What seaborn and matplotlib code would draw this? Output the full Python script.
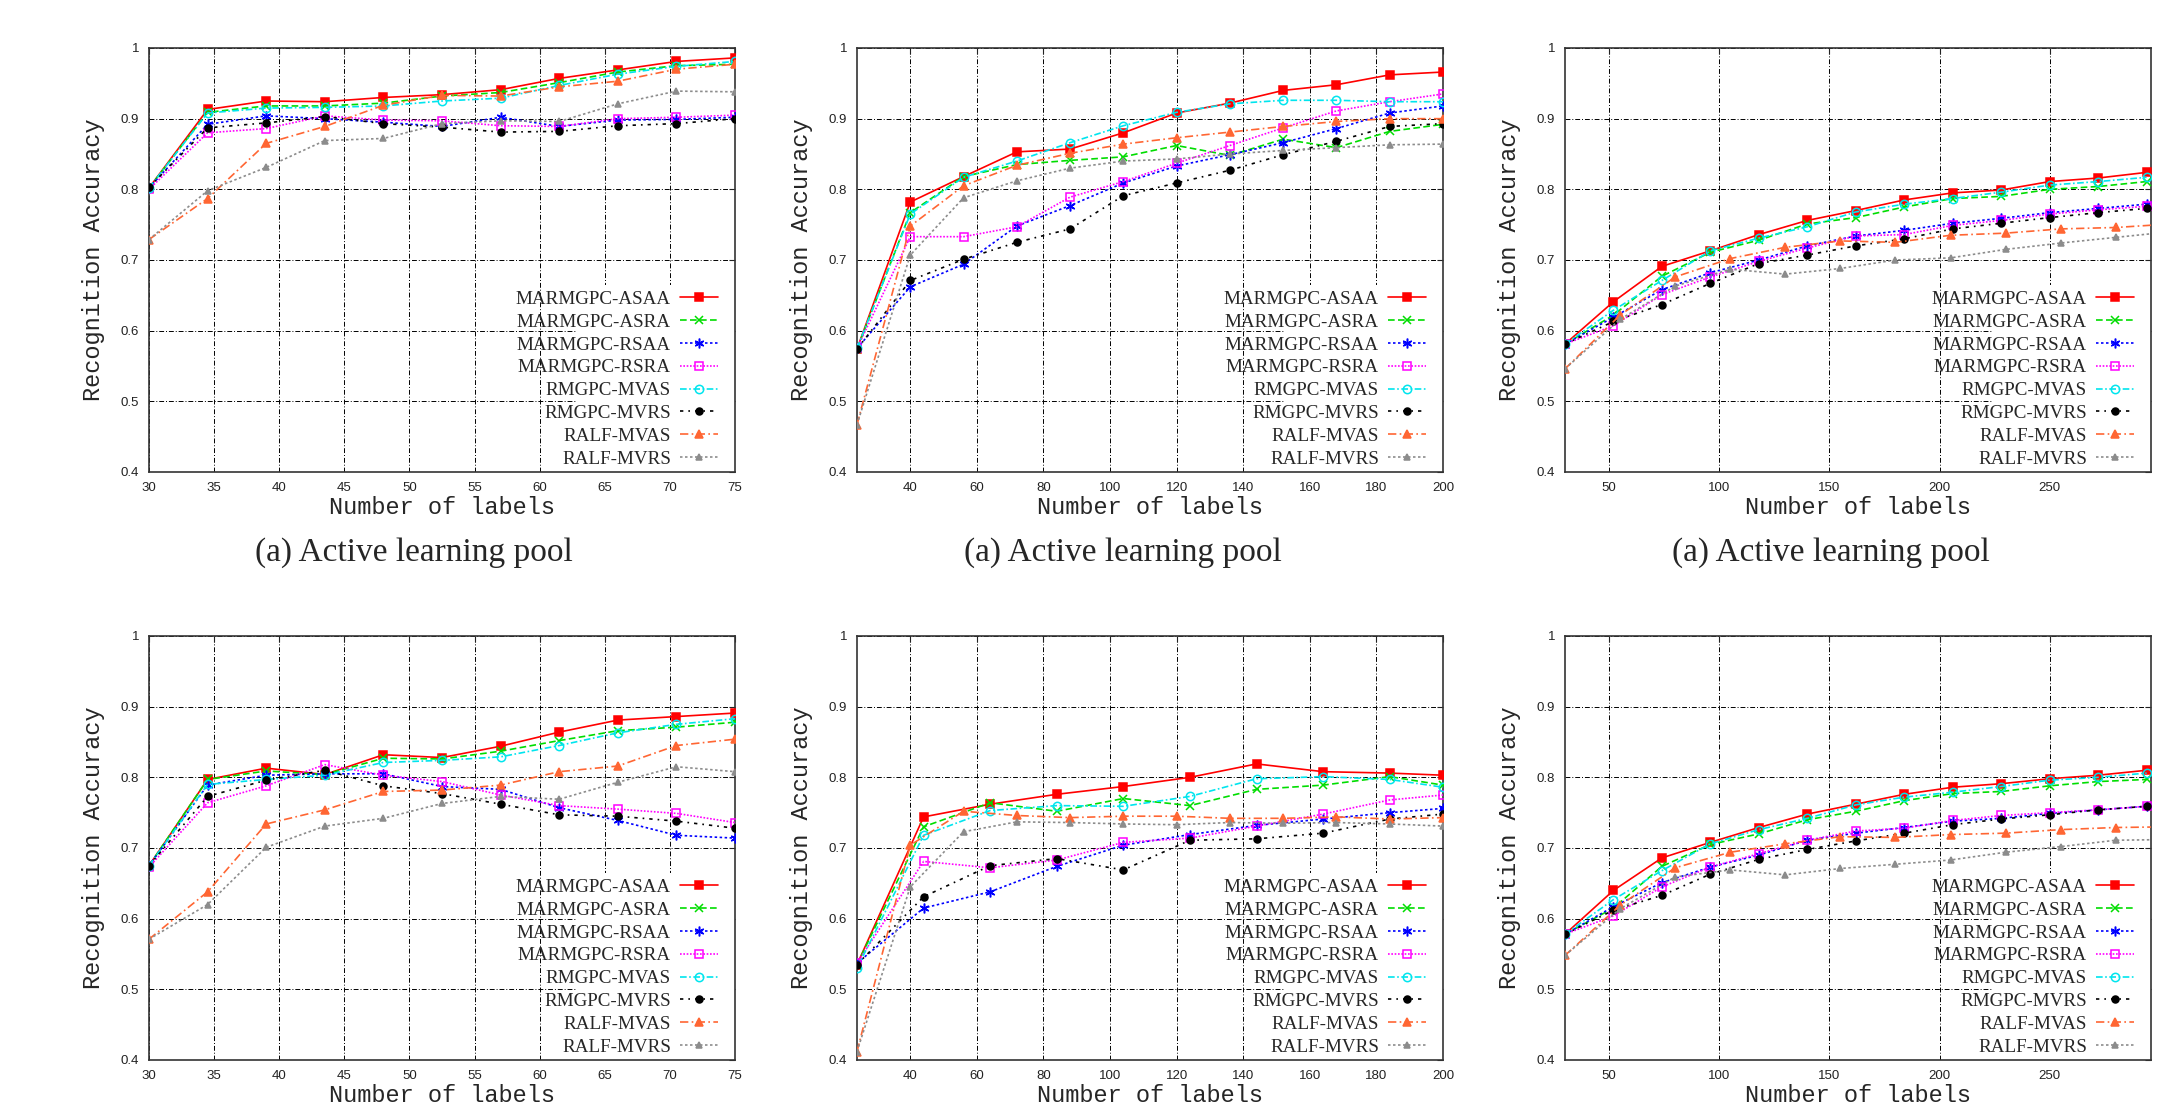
import pandas as pd
import seaborn as sns
import matplotlib.pyplot as plt
from matplotlib.patches import Rectangle

sns.set_theme(style="white")
plt.rcParams['font.family'] = ['Liberation Sans', 'DejaVu Sans']

METHODS = ['MARMGPC-ASAA', 'MARMGPC-ASRA', 'MARMGPC-RSAA', 'MARMGPC-RSRA',
           'RMGPC-MVAS', 'RMGPC-MVRS', 'RALF-MVAS', 'RALF-MVRS']

# x positions (number of labels)
X_A = [30, 34.5, 39, 43.5, 48, 52.5, 57, 61.5, 66, 70.5, 75]
X_B_TOP = [24, 40, 56, 72, 88, 104, 120, 136, 152, 168, 184, 200]
X_B_BOT = [24, 44, 64, 84, 104, 124, 144, 164, 184, 200]
X_B_RALF = [24, 40, 56, 72, 88, 104, 120, 136, 152, 168, 184, 200]
X_C = [30, 52, 74, 96, 118, 140, 162, 184, 206, 228, 250, 272, 294]
X_C_RALF = [30, 55, 80, 105, 130, 155, 180, 205, 230, 255, 280, 305]

TOP_LEFT = {
    'MARMGPC-ASAA': [0.802, 0.913, 0.925, 0.924, 0.930, 0.934, 0.941, 0.957, 0.969, 0.981, 0.986],
    'MARMGPC-ASRA': [0.802, 0.909, 0.918, 0.918, 0.922, 0.932, 0.937, 0.951, 0.966, 0.975, 0.977],
    'MARMGPC-RSAA': [0.802, 0.892, 0.904, 0.900, 0.895, 0.889, 0.902, 0.889, 0.898, 0.899, 0.902],
    'MARMGPC-RSRA': [0.800, 0.880, 0.886, 0.904, 0.898, 0.897, 0.890, 0.889, 0.900, 0.902, 0.905],
    'RMGPC-MVAS': [0.802, 0.908, 0.915, 0.916, 0.918, 0.925, 0.929, 0.947, 0.963, 0.974, 0.981],
    'RMGPC-MVRS': [0.803, 0.887, 0.894, 0.903, 0.893, 0.888, 0.881, 0.882, 0.890, 0.893, 0.900],
    'RALF-MVAS': [0.729, 0.787, 0.865, 0.889, 0.919, 0.933, 0.932, 0.945, 0.953, 0.970, 0.977],
    'RALF-MVRS': [0.729, 0.798, 0.831, 0.869, 0.872, 0.893, 0.897, 0.896, 0.921, 0.939, 0.938],
}

TOP_MID = {
    'MARMGPC-ASAA': [0.574, 0.782, 0.818, 0.853, 0.857, 0.880, 0.908, 0.922, 0.940, 0.948, 0.962, 0.966],
    'MARMGPC-ASRA': [0.574, 0.767, 0.818, 0.835, 0.841, 0.846, 0.862, 0.848, 0.871, 0.859, 0.882, 0.892],
    'MARMGPC-RSAA': [0.575, 0.662, 0.694, 0.748, 0.777, 0.809, 0.833, 0.849, 0.866, 0.886, 0.908, 0.918],
    'MARMGPC-RSRA': [0.575, 0.733, 0.733, 0.747, 0.789, 0.811, 0.837, 0.862, 0.887, 0.911, 0.924, 0.935],
    'RMGPC-MVAS': [0.575, 0.765, 0.817, 0.840, 0.866, 0.890, 0.909, 0.921, 0.926, 0.926, 0.924, 0.924],
    'RMGPC-MVRS': [0.574, 0.671, 0.701, 0.725, 0.744, 0.791, 0.809, 0.827, 0.849, 0.868, 0.889, 0.893],
    'RALF-MVAS': [0.467, 0.748, 0.805, 0.834, 0.851, 0.864, 0.873, 0.881, 0.889, 0.896, 0.900, 0.900],
    'RALF-MVRS': [0.467, 0.707, 0.788, 0.812, 0.830, 0.840, 0.843, 0.850, 0.855, 0.859, 0.863, 0.864],
}

TOP_RIGHT = {
    'MARMGPC-ASAA': [0.581, 0.641, 0.691, 0.713, 0.736, 0.756, 0.770, 0.785, 0.795, 0.799, 0.811, 0.816, 0.824],
    'MARMGPC-ASRA': [0.581, 0.622, 0.677, 0.711, 0.728, 0.751, 0.760, 0.775, 0.787, 0.790, 0.800, 0.804, 0.811],
    'MARMGPC-RSAA': [0.581, 0.619, 0.658, 0.682, 0.700, 0.720, 0.734, 0.742, 0.752, 0.759, 0.767, 0.773, 0.779],
    'MARMGPC-RSRA': [0.581, 0.607, 0.651, 0.676, 0.698, 0.717, 0.734, 0.736, 0.749, 0.756, 0.765, 0.771, 0.776],
    'RMGPC-MVAS': [0.581, 0.629, 0.671, 0.713, 0.731, 0.747, 0.768, 0.779, 0.787, 0.796, 0.806, 0.811, 0.817],
    'RMGPC-MVRS': [0.581, 0.613, 0.637, 0.667, 0.695, 0.707, 0.720, 0.730, 0.744, 0.752, 0.760, 0.767, 0.773],
    'RALF-MVAS': [0.546, 0.622, 0.676, 0.702, 0.718, 0.727, 0.725, 0.735, 0.738, 0.744, 0.746, 0.751],
    'RALF-MVRS': [0.546, 0.616, 0.663, 0.687, 0.680, 0.688, 0.700, 0.703, 0.715, 0.724, 0.732, 0.740],
}

BOT_LEFT = {
    'MARMGPC-ASAA': [0.675, 0.797, 0.813, 0.804, 0.832, 0.828, 0.844, 0.864, 0.881, 0.886, 0.891],
    'MARMGPC-ASRA': [0.675, 0.797, 0.809, 0.804, 0.827, 0.826, 0.837, 0.852, 0.866, 0.871, 0.878],
    'MARMGPC-RSAA': [0.675, 0.789, 0.803, 0.805, 0.805, 0.787, 0.783, 0.757, 0.739, 0.718, 0.714],
    'MARMGPC-RSRA': [0.673, 0.764, 0.788, 0.818, 0.803, 0.794, 0.775, 0.760, 0.755, 0.749, 0.736],
    'RMGPC-MVAS': [0.675, 0.790, 0.797, 0.803, 0.821, 0.824, 0.829, 0.845, 0.863, 0.875, 0.883],
    'RMGPC-MVRS': [0.675, 0.773, 0.796, 0.810, 0.788, 0.777, 0.762, 0.747, 0.745, 0.738, 0.728],
    'RALF-MVAS': [0.571, 0.638, 0.734, 0.754, 0.780, 0.782, 0.789, 0.808, 0.816, 0.845, 0.854],
    'RALF-MVRS': [0.571, 0.620, 0.701, 0.731, 0.742, 0.763, 0.773, 0.769, 0.793, 0.815, 0.808],
}

BOT_MID = {
    'MARMGPC-ASAA': [0.535, 0.744, 0.762, 0.776, 0.787, 0.800, 0.819, 0.808, 0.806, 0.803],
    'MARMGPC-ASRA': [0.535, 0.730, 0.764, 0.752, 0.770, 0.760, 0.783, 0.789, 0.801, 0.789],
    'MARMGPC-RSAA': [0.537, 0.615, 0.638, 0.674, 0.704, 0.719, 0.732, 0.741, 0.750, 0.756],
    'MARMGPC-RSRA': [0.537, 0.681, 0.672, 0.683, 0.708, 0.714, 0.731, 0.748, 0.768, 0.775],
    'RMGPC-MVAS': [0.530, 0.718, 0.753, 0.760, 0.759, 0.773, 0.798, 0.801, 0.797, 0.786],
    'RMGPC-MVRS': [0.535, 0.631, 0.675, 0.685, 0.669, 0.711, 0.713, 0.721, 0.741, 0.748],
    'RALF-MVAS': [0.412, 0.704, 0.752, 0.746, 0.743, 0.745, 0.745, 0.742, 0.742, 0.744, 0.741, 0.743],
    'RALF-MVRS': [0.412, 0.645, 0.723, 0.737, 0.736, 0.734, 0.733, 0.736, 0.735, 0.736, 0.734, 0.731],
}

BOT_RIGHT = {
    'MARMGPC-ASAA': [0.578, 0.640, 0.686, 0.708, 0.729, 0.748, 0.762, 0.776, 0.786, 0.791, 0.798, 0.803, 0.810],
    'MARMGPC-ASRA': [0.578, 0.615, 0.674, 0.705, 0.720, 0.740, 0.752, 0.767, 0.777, 0.780, 0.788, 0.794, 0.797],
    'MARMGPC-RSAA': [0.578, 0.617, 0.651, 0.673, 0.690, 0.711, 0.721, 0.729, 0.738, 0.742, 0.749, 0.754, 0.759],
    'MARMGPC-RSRA': [0.578, 0.604, 0.645, 0.673, 0.692, 0.711, 0.724, 0.728, 0.739, 0.746, 0.750, 0.754, 0.759],
    'RMGPC-MVAS': [0.578, 0.627, 0.668, 0.706, 0.726, 0.742, 0.761, 0.772, 0.779, 0.787, 0.796, 0.800, 0.806],
    'RMGPC-MVRS': [0.578, 0.612, 0.633, 0.663, 0.684, 0.698, 0.710, 0.721, 0.733, 0.741, 0.747, 0.754, 0.759],
    'RALF-MVAS': [0.548, 0.619, 0.672, 0.694, 0.706, 0.716, 0.715, 0.719, 0.721, 0.726, 0.729, 0.730],
    'RALF-MVRS': [0.548, 0.614, 0.659, 0.669, 0.662, 0.671, 0.677, 0.683, 0.694, 0.702, 0.711, 0.712],
}

Y_TICKS = [0.4, 0.5, 0.6, 0.7, 0.8, 0.9, 1.0]
Y_TICK_LABELS = ['0.4', '0.5', '0.6', '0.7', '0.8', '0.9', '1']

# style per method: color, marker, linestyle, markersize, filled
STYLES = {
    'MARMGPC-ASAA': ('#ff0000', 's', '-', 5.5, True),
    'MARMGPC-ASRA': ('#00dd00', 'x', (0, (4, 2)), 5.5, False),
    'MARMGPC-RSAA': ('#0000ff', (6, 2, 0), (0, (1.5, 1.5)), 7, False),
    'MARMGPC-RSRA': ('#ff00ff', 's', (0, (1, 1)), 6, 'open'),
    'RMGPC-MVAS': ('#00e5ee', 'o', (0, (4, 1.5, 1, 1.5)), 6, 'open'),
    'RMGPC-MVRS': ('#000000', 'o', (0, (2, 3, 1, 3)), 5, True),
    'RALF-MVAS': ('#ff6633', '^', (0, (5, 2, 1, 2)), 6, True),
    'RALF-MVRS': ('#8c8c8c', '^', (0, (1.5, 1.5)), 4.5, True),
}

PANELS = [
    (TOP_LEFT, X_A, X_A, (30, 75), list(range(30, 80, 5))),
    (TOP_MID, X_B_TOP, X_B_RALF, (24, 200), list(range(40, 220, 20))),
    (TOP_RIGHT, X_C, X_C_RALF, (30, 296), [50, 100, 150, 200, 250]),
    (BOT_LEFT, X_A, X_A, (30, 75), list(range(30, 80, 5))),
    (BOT_MID, X_B_BOT, X_B_RALF, (24, 200), list(range(40, 220, 20))),
    (BOT_RIGHT, X_C, X_C_RALF, (30, 296), [50, 100, 150, 200, 250]),
]

W, H = 2158, 1107
COL_LEFT = [149, 857, 1565]
COL_W = 586
ROW_TOP = [48, 636]
ROW_H = 424
CAPTION_X = [414, 1123, 1831]


def to_frame(values, x_main, x_ralf):
    rows = []
    for name in METHODS:
        xs = x_ralf if name.startswith('RALF') else x_main
        for x, y in zip(xs, values[name]):
            rows.append({'labels': x, 'acc': y, 'method': name})
    return pd.DataFrame(rows)


fig = plt.figure(figsize=(W / 100, H / 100), dpi=100)

for i, (values, x_main, x_ralf, xlim, xticks) in enumerate(PANELS):
    r, c = divmod(i, 3)
    left = COL_LEFT[c] / W
    bottom = 1 - (ROW_TOP[r] + ROW_H) / H
    ax = fig.add_axes([left, bottom, COL_W / W, ROW_H / H])
    df = to_frame(values, x_main, x_ralf)

    for name in METHODS:
        color, marker, ls, ms, filled = STYLES[name]
        face = color if filled is True else 'none'
        sub = df[df['method'] == name]
        sns.lineplot(data=sub, x='labels', y='acc', ax=ax, color=color, marker=marker,
                     linestyle=ls, linewidth=1.2, markersize=ms, markerfacecolor=face,
                     markeredgecolor=color, markeredgewidth=1.1, label=name,
                     errorbar=None, zorder=3)

    ax.set_xlim(*xlim)
    ax.set_ylim(0.4, 1.0)
    ax.set_xticks(xticks)
    ax.set_yticks(Y_TICKS)
    ax.set_yticklabels(Y_TICK_LABELS)
    ax.grid(True, color='black', linestyle=(0, (5, 2, 1, 2)), linewidth=0.7)
    ax.set_axisbelow(True)
    ax.tick_params(direction='in', length=4, width=0.8, top=True, right=True,
                   labelsize=9.5, colors='#222222', pad=7)
    for sp in ax.spines.values():
        sp.set_color('#333333')
        sp.set_linewidth(1.2)

    # opaque key area like gnuplot
    ax.add_patch(Rectangle((0.73, 0), 0.27, 0.442, transform=ax.transAxes,
                           facecolor='white', edgecolor='none', zorder=1))

    ax.set_xlabel('Number of labels', family='Liberation Mono', fontsize=17, va='center')
    ax.set_ylabel('Recognition Accuracy', family='Liberation Mono', fontsize=17, va='center')
    ax.xaxis.set_label_coords(0.5, -0.083)
    ax.yaxis.set_label_coords(-0.094, 0.5)

    handles, labels = ax.get_legend_handles_labels()
    ax.legend(handles, labels, loc='lower right', bbox_to_anchor=(0.971, 0.01),
              frameon=False, markerfirst=False, numpoints=1, handlelength=2.0,
              handletextpad=0.47, labelspacing=0.29, borderpad=0, borderaxespad=0,
              prop={'family': 'Liberation Serif', 'size': 13.7})

for c in range(3):
    fig.text(CAPTION_X[c] / W, 1 - 553 / H, '(a) Active learning pool',
             family='Liberation Serif', fontsize=24, ha='center', va='center')

fig.savefig('out.png', dpi=100, facecolor='white')
